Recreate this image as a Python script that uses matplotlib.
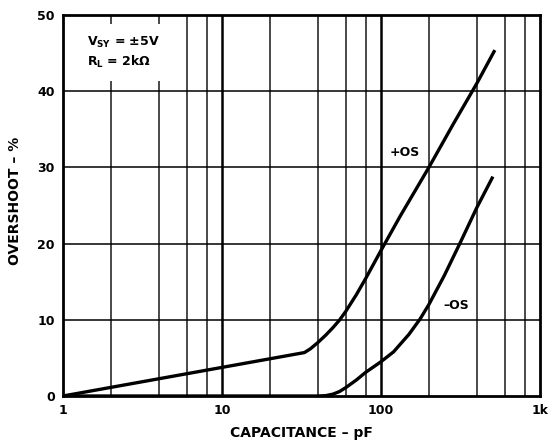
import matplotlib
matplotlib.use("Agg")
import matplotlib.pyplot as plt

plt.rcParams['font.family'] = ['DejaVu Sans']
plt.rcParams['font.weight'] = 'bold'
plt.rcParams['mathtext.fontset'] = 'custom'
plt.rcParams['mathtext.rm'] = 'DejaVu Sans:bold'
plt.rcParams['mathtext.it'] = 'DejaVu Sans:bold'
plt.rcParams['mathtext.bf'] = 'DejaVu Sans:bold'

# Overshoot vs. load capacitance
pos_cap = [1, 33, 36, 40, 45, 50, 55, 60, 70, 80, 100, 132, 200, 285, 400, 514]
pos_os = [0, 5.7, 6.2, 7.0, 8.0, 9.0, 10.0, 11.1, 13.3, 15.4, 19.1, 23.6, 30.0, 35.7, 41.0, 45.2]

neg_cap = [1, 40, 45, 50, 55, 60, 70, 80, 100, 120, 150, 176, 200, 250, 318, 400, 500]
neg_os = [0, 0, 0.05, 0.25, 0.6, 1.1, 2.1, 3.1, 4.5, 5.8, 8.1, 10.1, 12.0, 15.8, 20.3, 24.7, 28.6]

x_ticks = [1, 10, 100, 1000]
x_tick_labels = ['1', '10', '100', '1k']
y_ticks = [0, 10, 20, 30, 40, 50]

fig = plt.figure(figsize=(5.48, 4.40), dpi=100)
ax = fig.add_axes([63/548, 44/440, 477/548, 381/440])
ax.set_xscale('log')
ax.set_xlim(1, 1000)
ax.set_ylim(0, 50)

# grid: minor lines at 2,4,6,8 per decade, heavier decade lines
for dec in [1, 10, 100]:
    for m in [2, 4, 6, 8]:
        ax.axvline(dec * m, color='#2a2a2a', lw=1.2, zorder=1)
for dec in [10, 100]:
    ax.axvline(dec, color='black', lw=1.8, zorder=1)
for y in [10, 20, 30, 40]:
    ax.axhline(y, color='black', lw=1.1, zorder=1)

ax.plot(pos_cap, pos_os, color='black', lw=2.4, zorder=3)
ax.plot(neg_cap, neg_os, color='black', lw=2.4, zorder=3)

ax.text(141, 31.9, '+OS', ha='center', va='center', fontsize=9, fontweight='bold', zorder=4)
ax.text(296, 11.9, '\u2013OS', ha='center', va='center', fontsize=9, fontweight='bold', zorder=4)

ax.text(1.416, 45.1, r'$V_{SY}$ = ±5V' + '\n' + r'$R_L$ = 2kΩ', ha='left', va='center',
        fontsize=9, fontweight='bold', linespacing=1.3, zorder=4,
        bbox=dict(facecolor='white', edgecolor='none', pad=8))

ax.set_xticks(x_ticks)
ax.set_xticklabels(x_tick_labels)
ax.xaxis.set_minor_locator(matplotlib.ticker.NullLocator())
ax.set_yticks(y_ticks)
ax.tick_params(length=0, labelsize=9, pad=6)
for lab in ax.get_xticklabels() + ax.get_yticklabels():
    lab.set_fontweight('bold')

for s in ax.spines.values():
    s.set_linewidth(2.0)
    s.set_zorder(5)

fig.text(301/548, 1 - 433/440, 'CAPACITANCE \u2013 pF', ha='center', va='center',
         fontsize=10, fontweight='bold')
fig.text(15/548, 1 - 201/440, 'OVERSHOOT \u2013 %', ha='center', va='center',
         rotation=90, fontsize=10, fontweight='bold')

fig.savefig('out.png', dpi=100)
